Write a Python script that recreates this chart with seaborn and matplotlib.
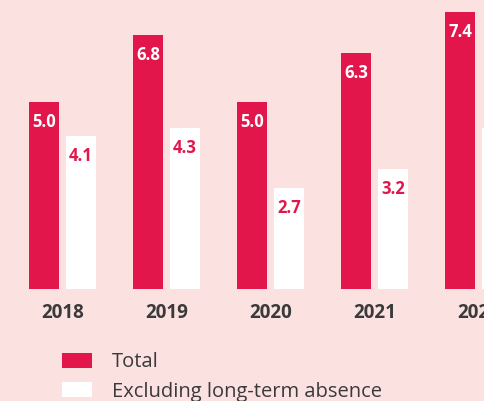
import pandas as pd
import matplotlib.pyplot as plt
import seaborn as sns

# Sickness absence (%) by year
years = ["2018", "2019", "2020", "2021", "2022"]
total = [5.0, 6.8, 5.0, 6.3, 7.4]
excl_long_term = [4.1, 4.3, 2.7, 3.2, 4.3]
series_names = ["Total", "Excluding long-term absence"]

red = "#e2164a"
bg = "#fce1e1"
text_dark = "#3a3a3a"

df = pd.DataFrame({
    "year": years * 2,
    "value": total + excl_long_term,
    "series": [series_names[0]] * len(years) + [series_names[1]] * len(years),
})

sns.set_theme(style="white")
plt.rcParams["font.family"] = ["Open Sans", "DejaVu Sans"]

fig = plt.figure(figsize=(4.84, 4.01), dpi=100, facecolor=bg)
ax = fig.add_axes([0, 0.279, 1, 0.721])
ax.set_facecolor(bg)

sns.barplot(data=df, x="year", y="value", hue="series", palette=[red, "white"],
            saturation=1, width=0.712, gap=0.176, linewidth=0, ax=ax)

ax.set_xlim(-0.601, 4.053)
ax.set_ylim(0, 7.73)

# value labels just inside the top of each bar
for cont, col in zip(ax.containers, ["white", red]):
    for bar in cont:
        h = bar.get_height()
        ax.annotate(f"{h:.1f}", (bar.get_x() + bar.get_width() / 2, h),
                    xytext=(0, -20), textcoords="offset pixels",
                    ha="center", va="center", color=col,
                    fontsize=12, fontweight="bold")

sns.despine(ax=ax, left=True, bottom=True)
ax.set_xlabel("")
ax.set_ylabel("")
ax.set_yticks([])
ax.tick_params(axis="x", length=0, pad=10, labelsize=13.5, labelcolor=text_dark)
for lbl in ax.get_xticklabels():
    lbl.set_fontweight("bold")

sns.move_legend(ax, loc="upper left", bbox_to_anchor=(0.128, 0.121),
                bbox_transform=fig.transFigure, frameon=False, title=None,
                fontsize=14.5, handlelength=1.5, handleheight=0.8,
                handletextpad=1.0, labelspacing=0.45, borderpad=0,
                borderaxespad=0)
for t in ax.get_legend().get_texts():
    t.set_color(text_dark)

fig.savefig("out.png", dpi=100, facecolor=bg)
